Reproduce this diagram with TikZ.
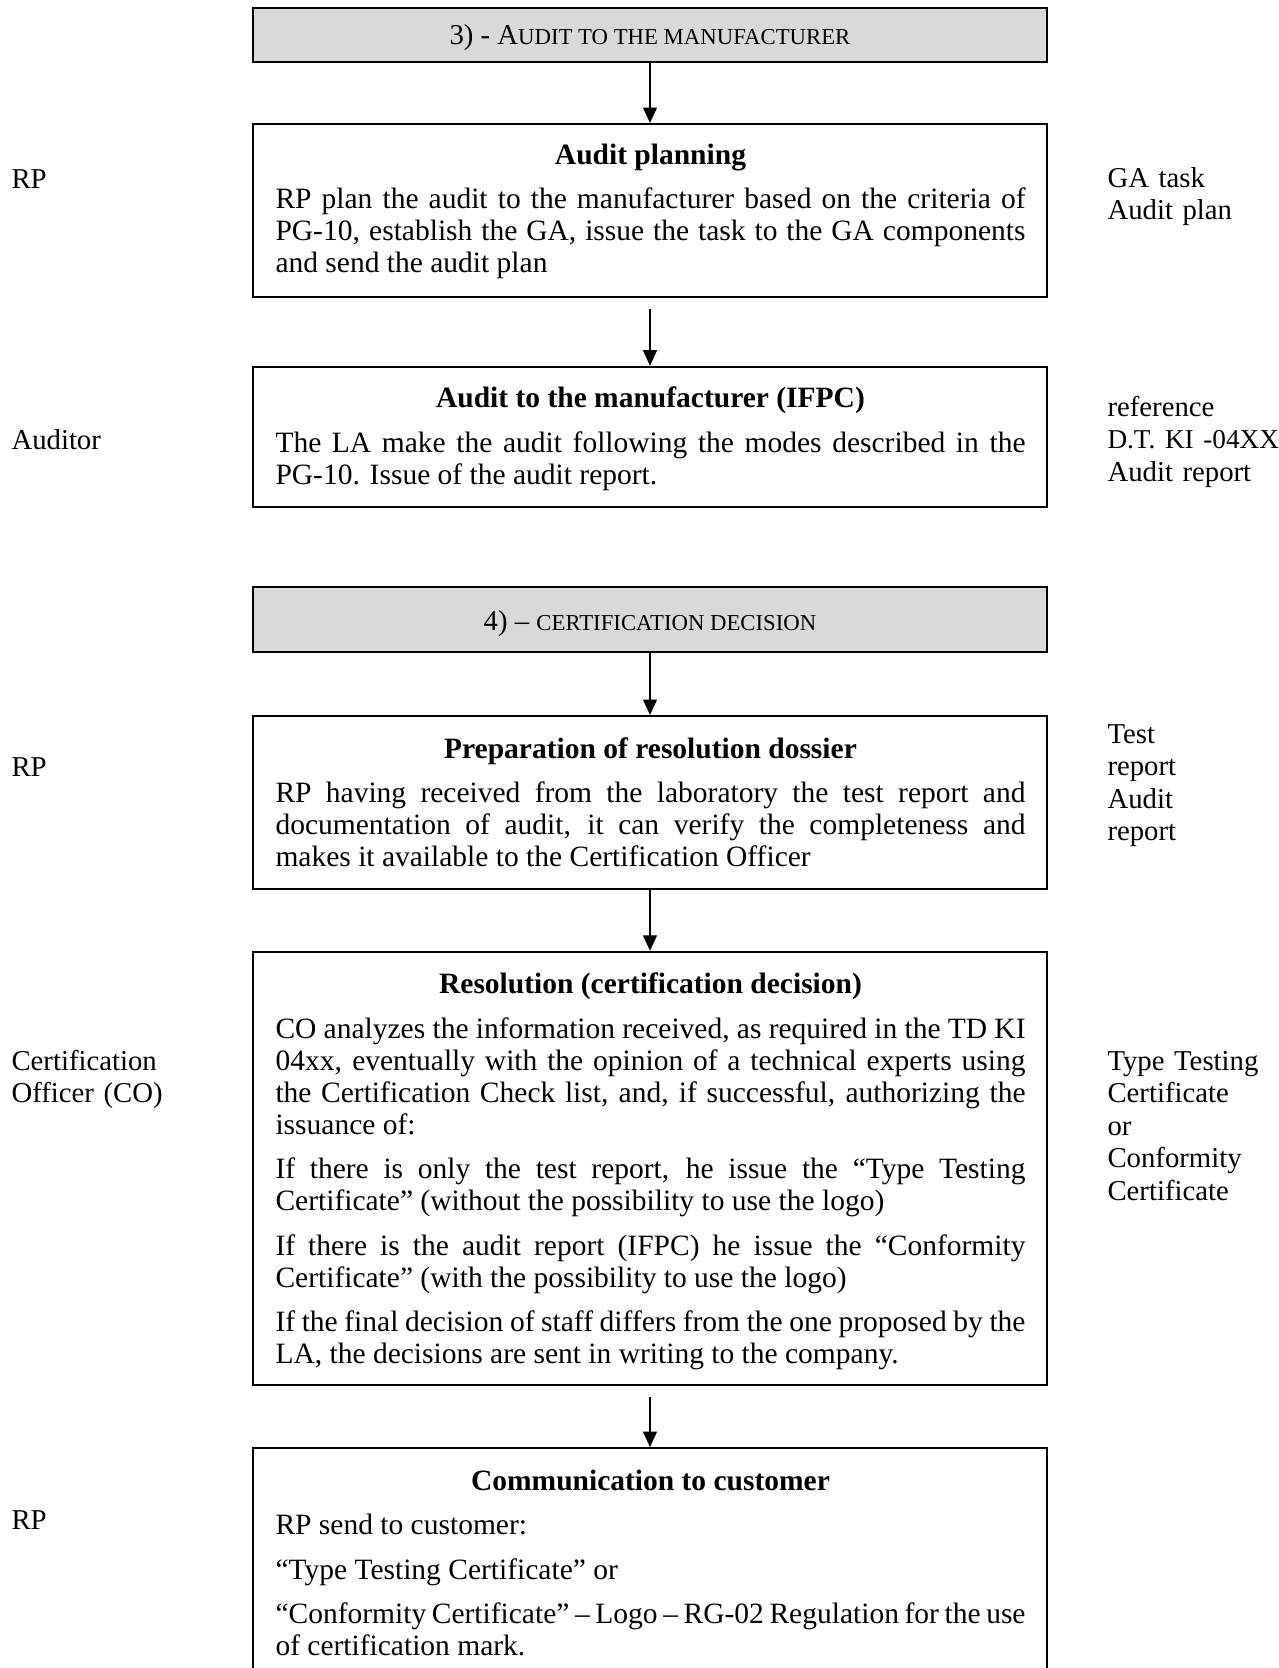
\documentclass[tikz,border=0pt]{standalone}
\usepackage{fontspec}
\setmainfont{Liberation Serif}
\usetikzlibrary{arrows.meta}
\definecolor{hdrgray}{RGB}{217,217,217}
\newcommand\boxtitle[1]{\setlength{\parskip}{5pt}{\centering\bfseries #1\par}}
\newcommand\smc[1]{{\fontsize{9.1}{12}\selectfont #1}}
\tikzset{
  boxst/.style={draw, line width=0.8pt, minimum width=317.3pt, inner sep=0pt},
  hdrst/.style={boxst, fill=hdrgray},
  txtst/.style={anchor=base west, inner sep=0pt, text width=300pt, align=justify,
    font=\fontsize{11.8}{12.8}\selectfont},
  hdrtxt/.style={anchor=base, inner sep=0pt, font=\fontsize{11.5}{12.8}\selectfont},
  lblst/.style={anchor=base west, inner sep=0pt, text width=90pt, align=left,
    font=\fontsize{11.5}{13}\selectfont},
  arrst/.style={-{Triangle[length=6.2pt,width=5.6pt]}, line width=0.5pt}
}
\begin{document}
\begin{tikzpicture}[x=0.4pt,y=-0.4pt]
\useasboundingbox (0,0) rectangle (1279,1668);
\clip (0,0) rectangle (1279,1668);

% boxes
\node[hdrst, minimum height=21.8pt] (h1) at (650,34.75) {};
\node[boxst, minimum height=69.2pt] (b2) at (650,210.5) {};
\node[boxst, minimum height=56pt]   (b3) at (650,436.7) {};
\node[hdrst, minimum height=26pt]   (h2) at (650,619.5) {};
\node[boxst, minimum height=69.2pt] (b4) at (650,802.5) {};
\node[boxst, minimum height=173.3pt] (b5) at (650,1168.4) {};
\node[boxst, minimum height=89.6pt] (b6) at (650,1560) {};

% header texts
\node[hdrtxt] (ht1) at (650,44) {3) - A\smc{UDIT TO THE MANUFACTURER}};
\node[hdrtxt] (ht2) at (650,630) {4) – \smc{CERTIFICATION DECISION}};

% box texts
\node[txtst] (t2) at (275,164) {\boxtitle{Audit planning}RP plan the audit to the manufacturer based on the criteria of\linebreak PG-10, establish the GA, issue the task to the GA components\linebreak and send the audit plan\par};

\node[txtst] (t3) at (275,407.5) {\boxtitle{Audit to the manufacturer (IFPC)}The LA make the audit following the modes described in the\linebreak PG-10. Issue of the audit report.\par};

\node[txtst] (t4) at (275,758) {\boxtitle{Preparation of resolution dossier}RP having received from the laboratory the test report and\linebreak documentation of audit, it can verify the completeness and\linebreak makes it available to the Certification Officer\par};

\node[txtst] (t5) at (275,993.5) {\boxtitle{Resolution (certification decision)}CO analyzes the information received, as required in the TD KI\linebreak 04xx, eventually with the opinion of a technical experts using\linebreak the Certification Check list, and, if successful, authorizing the\linebreak issuance of:\par
If there is only the test report, he issue the “Type Testing\linebreak Certificate” (without the possibility to use the logo)\par
If there is the audit report (IFPC) he issue the “Conformity\linebreak Certificate” (with the possibility to use the logo)\par
If the final decision of staff differs from the one proposed by the\linebreak LA, the decisions are sent in writing to the company.\par};

\node[txtst] (t6) at (275,1490) {\boxtitle{Communication to customer}RP send to customer:\par
“Type Testing Certificate” or\par
“Conformity Certificate” – Logo – RG-02 Regulation for the use\linebreak of certification mark.\par};

% arrows
\draw[arrst] (h1.south) -- (b2.north);
\draw[arrst] ([yshift=-4.4pt]b2.south) -- (b3.north);
\draw[arrst] (h2.south) -- (b4.north);
\draw[arrst] (b4.south) -- (b5.north);
\draw[arrst] ([yshift=-4.4pt]b5.south) -- (b6.north);

% left labels
\node[lblst] (l1) at (11,188) {RP};
\node[lblst] (l2) at (11,449) {Auditor};
\node[lblst] (l3) at (11,776) {RP};
\node[lblst] (l4) at (11,1070) {Certification\\Officer (CO)};
\node[lblst] (l5) at (11,1529) {RP};

% right labels
\node[lblst] (r1) at (1107,187) {GA task\\Audit plan};
\node[lblst] (r2) at (1107,416) {reference\\{\fontsize{10.9}{13}\selectfont D.T. KI -04XX}\\Audit report};
\node[lblst] (r3) at (1107,743) {Test\\report\\Audit\\report};
\node[lblst] (r4) at (1107,1070) {Type Testing\\Certificate\\or\\Conformity\\Certificate};
\end{tikzpicture}
\end{document}
